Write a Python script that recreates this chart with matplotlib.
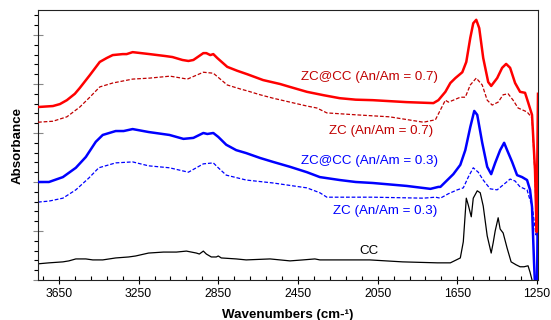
import matplotlib
matplotlib.use('Agg')
import matplotlib.pyplot as plt
from matplotlib.ticker import FixedLocator, MultipleLocator, NullFormatter
import numpy as np

plt.rcParams.update({
    'font.family': ['Liberation Sans', 'DejaVu Sans'],
    'font.size': 9.6,
    'lines.solid_joinstyle': 'round',
    'lines.dash_joinstyle': 'round',
})

# ── Datos (numero de onda cm-1, absorbancia u.a.) ──
wn_zccc07 = [3755, 3680, 3645, 3610, 3570, 3545, 3495, 3445, 3410, 3380, 3330, 3310, 3280,
             3195, 3115, 3080, 3030, 3000, 2975, 2925, 2910, 2890, 2875, 2855, 2805, 2755,
             2705, 2625, 2540, 2490, 2405, 2320, 2240, 2160, 2075, 1905, 1770, 1745, 1710,
             1685, 1660, 1625, 1605, 1585, 1570, 1555, 1540, 1520, 1495, 1480, 1450, 1425,
             1405, 1385, 1360, 1335, 1310, 1295, 1275, 1260, 1252, 1245]
ab_zccc07 = [3.53, 3.55, 3.59, 3.67, 3.80, 3.92, 4.18, 4.45, 4.53, 4.59, 4.61, 4.61, 4.65,
             4.61, 4.57, 4.55, 4.49, 4.47, 4.49, 4.63, 4.63, 4.59, 4.61, 4.53, 4.35, 4.27,
             4.20, 4.08, 4.00, 3.94, 3.84, 3.77, 3.71, 3.68, 3.67, 3.63, 3.61, 3.67, 3.84,
             4.02, 4.12, 4.24, 4.45, 4.94, 5.24, 5.31, 5.14, 4.53, 4.04, 3.96, 4.12, 4.33,
             4.41, 4.33, 4.02, 3.84, 3.82, 3.63, 3.37, 2.24, 0.98, 3.80]

wn_zc07 = [3755, 3680, 3610, 3545, 3495, 3445, 3380, 3330, 3280, 3195, 3092, 3005, 2925,
           2875, 2805, 2741, 2705, 2640, 2575, 2405, 2355, 2305, 2155, 1990, 1820, 1760,
           1735, 1710, 1695, 1670, 1635, 1610, 1585, 1555, 1525, 1500, 1475, 1445, 1420,
           1395, 1370, 1345, 1300, 1275, 1260, 1252, 1245]
ab_zc07 = [3.22, 3.24, 3.33, 3.53, 3.73, 3.94, 4.02, 4.06, 4.10, 4.12, 4.16, 4.10, 4.24,
           4.22, 3.98, 3.90, 3.86, 3.78, 3.71, 3.55, 3.51, 3.41, 3.37, 3.33, 3.22, 3.27,
           3.47, 3.67, 3.63, 3.67, 3.73, 3.73, 3.98, 4.12, 3.98, 3.67, 3.57, 3.63, 3.78,
           3.80, 3.67, 3.51, 3.43, 3.31, 2.14, 0.92, 3.27]

wn_zccc03 = [3755, 3700, 3630, 3565, 3515, 3465, 3430, 3365, 3325, 3280, 3200, 3095, 3025,
             2975, 2925, 2905, 2875, 2850, 2810, 2760, 2710, 2640, 2575, 2490, 2405, 2340,
             2240, 2160, 2075, 1905, 1785, 1745, 1735, 1700, 1670, 1635, 1610, 1585, 1565,
             1550, 1525, 1500, 1480, 1460, 1435, 1415, 1400, 1375, 1350, 1325, 1300, 1285,
             1275, 1265, 1257, 1250, 1245]
ab_zccc03 = [2.00, 2.00, 2.10, 2.29, 2.51, 2.82, 2.96, 3.04, 3.04, 3.08, 3.02, 2.96, 2.88,
             2.90, 3.00, 2.98, 3.00, 2.92, 2.76, 2.65, 2.59, 2.49, 2.41, 2.31, 2.20, 2.10,
             2.04, 2.00, 1.98, 1.92, 1.86, 1.90, 1.90, 2.04, 2.16, 2.35, 2.65, 3.12, 3.45,
             3.37, 2.80, 2.31, 2.16, 2.39, 2.65, 2.80, 2.65, 2.41, 2.14, 2.10, 2.04, 1.84,
             1.49, 0.37, -0.41, -0.20, 2.00]

wn_zc03 = [3755, 3700, 3630, 3565, 3500, 3450, 3365, 3280, 3200, 3095, 3000, 2925, 2875,
           2850, 2810, 2710, 2575, 2405, 2340, 2305, 2075, 1820, 1760, 1735, 1695, 1650,
           1620, 1595, 1570, 1545, 1520, 1485, 1450, 1420, 1385, 1360, 1335, 1300, 1285,
           1275, 1255, 1245]
ab_zc03 = [1.59, 1.61, 1.67, 1.84, 2.08, 2.29, 2.39, 2.41, 2.33, 2.29, 2.20, 2.37, 2.39,
           2.29, 2.14, 2.04, 1.98, 1.88, 1.78, 1.69, 1.69, 1.67, 1.69, 1.67, 1.76, 1.84,
           1.88, 2.10, 2.29, 2.20, 2.04, 1.86, 1.84, 1.94, 2.06, 2.02, 1.90, 1.84, 1.63,
           1.53, 0.92, 1.63]

wn_cc = [3755, 3700, 3630, 3600, 3565, 3515, 3480, 3430, 3365, 3300, 3265, 3200, 3125,
         3060, 3010, 2960, 2945, 2925, 2910, 2885, 2860, 2850, 2835, 2760, 2710, 2590,
         2490, 2425, 2365, 2340, 2255, 2090, 1925, 1750, 1685, 1635, 1620, 1605, 1595,
         1580, 1570, 1550, 1535, 1520, 1500, 1480, 1470, 1460, 1445, 1435, 1420, 1400,
         1380, 1355, 1335, 1315, 1295, 1285, 1275, 1260]
ab_cc = [0.33, 0.35, 0.37, 0.39, 0.43, 0.43, 0.41, 0.41, 0.45, 0.47, 0.49, 0.55, 0.57,
         0.57, 0.59, 0.55, 0.53, 0.59, 0.53, 0.47, 0.47, 0.49, 0.45, 0.43, 0.41, 0.43,
         0.39, 0.41, 0.43, 0.41, 0.41, 0.41, 0.37, 0.35, 0.35, 0.45, 0.78, 1.67, 1.53,
         1.29, 1.67, 1.82, 1.78, 1.51, 0.90, 0.55, 0.76, 1.00, 1.27, 1.04, 0.96, 0.65,
         0.37, 0.31, 0.27, 0.27, 0.29, 0.16, 0.00, -0.24]

x_major = [3650, 3250, 2850, 2450, 2050, 1650, 1250]

RED = '#FF0000'
DARK_RED = '#C00000'
BLUE = '#0000FF'

fig = plt.figure(figsize=(5.51, 3.20), dpi=100, facecolor='white')
ax = fig.add_axes([38/551, 40/320, 500/551, 270/320])

ax.plot(wn_zccc07, ab_zccc07, color=RED, lw=1.8, zorder=4)
ax.plot(wn_zc07, ab_zc07, color=DARK_RED, lw=0.9, ls=(0, (3, 1.5)), zorder=3)
ax.plot(wn_zccc03, ab_zccc03, color=BLUE, lw=1.8, zorder=3)
ax.plot(wn_zc03, ab_zc03, color=BLUE, lw=0.9, ls=(0, (3, 1.5)), zorder=2)
ax.plot(wn_cc, ab_cc, color='black', lw=0.9, zorder=2)

ax.text(1747, 4.14, 'ZC@CC (An/Am = 0.7)', color=DARK_RED, ha='right', va='center')
ax.text(1772, 3.04, 'ZC (An/Am = 0.7)', color=DARK_RED, ha='right', va='center')
ax.text(1747, 2.43, 'ZC@CC (An/Am = 0.3)', color=BLUE, ha='right', va='center')
ax.text(1752, 1.41, 'ZC (An/Am = 0.3)', color=BLUE, ha='right', va='center')
ax.text(2091, 0.59, 'CC', color='black', ha='center', va='center')

ax.set_xlim(3755, 1245)
ax.set_ylim(0, 5.51)

ax.xaxis.set_major_locator(FixedLocator(x_major))
ax.xaxis.set_minor_locator(FixedLocator(np.arange(1250, 3760, 80)))
ax.yaxis.set_major_locator(MultipleLocator(1))
ax.yaxis.set_minor_locator(MultipleLocator(0.2))
ax.yaxis.set_major_formatter(NullFormatter())

ax.tick_params(axis='x', which='major', direction='inout', length=6, width=0.8,
               labelsize=8.7, pad=3)
ax.tick_params(axis='x', which='minor', direction='in', length=3, width=0.8)
ax.tick_params(axis='y', which='major', direction='inout', length=7, width=0.8,
               color='#888888')
ax.tick_params(axis='y', which='minor', direction='out', length=3, width=0.8)

for s in ax.spines.values():
    s.set_linewidth(0.8)
    s.set_color('#222222')

ax.set_xlabel('Wavenumbers (cm-¹)', fontweight='bold', fontsize=9.6, labelpad=6)
ax.set_ylabel('Absorbance', fontweight='bold', fontsize=9.6, labelpad=3)

fig.savefig('out.png', dpi=100, facecolor='white')
